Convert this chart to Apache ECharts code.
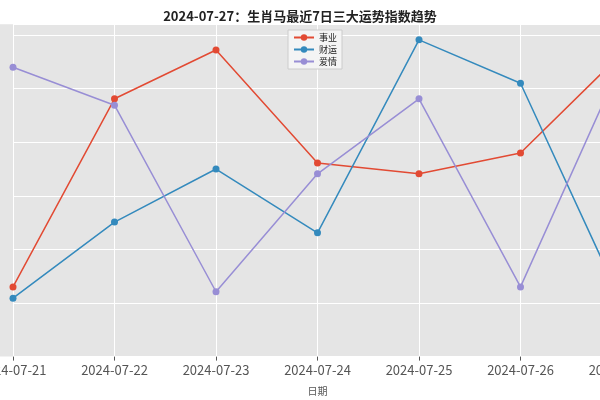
<!DOCTYPE html>
<html><head><meta charset="utf-8">
<script src="https://cdn.jsdelivr.net/npm/echarts@6/dist/echarts.min.js"></script>
<style>html,body{margin:0;padding:0;background:#fff}#c{width:600px;height:400px}</style>
</head><body><div id="c"></div>
<script>
const dates = ['2024-07-21','2024-07-22','2024-07-23','2024-07-24','2024-07-25','2024-07-26','2024-07-27'];
const career = [53.0, 88.1, 97.2, 76.1, 74.1, 78.0, 96.6];
const wealth = [50.9, 65.1, 75.0, 63.1, 99.1, 91.0, 50.0];
const love = [94.0, 86.9, 52.1, 74.1, 88.1, 53.0, 95.1];
const names = ['事业','财运','爱情'];
const colors = ['#E24A33','#348ABD','#988ED5'];
const font = '"Noto Sans CJK SC", "DejaVu Sans", sans-serif';
const chart = echarts.init(document.getElementById('c'));
const mk = (n,d,i)=>({name:n,type:'line',data:d,symbol:'circle',symbolSize:7,
  lineStyle:{color:colors[i],width:1.5},itemStyle:{color:colors[i]},z:3});
chart.setOption({
  animation:false,
  textStyle:{fontFamily:font},
  title:{text:'2024-07-27：生肖马最近7日三大运势指数趋势',left:'center',top:5,
    textStyle:{fontSize:13,fontWeight:'bold',color:'#222',fontFamily:font}},
  graphic:[{type:'rect',z:-10,silent:true,shape:{x:0,y:24.3,width:600,height:332.3},style:{fill:'#e5e5e5'}}],
  legend:{data:names,orient:'vertical',left:288,top:30,itemWidth:20,itemHeight:8,itemGap:3,
    backgroundColor:'#f4f4f4',borderColor:'#ccc',borderWidth:1,padding:[3,5],
    textStyle:{fontSize:9,color:'#222',fontFamily:font}},
  grid:{left:13,width:609,top:24.3,bottom:43.4,containLabel:false,outerBoundsMode:'none'},
  xAxis:{type:'category',data:dates,boundaryGap:false,name:'日期',nameLocation:'middle',nameGap:30,
    nameTextStyle:{fontSize:10,color:'#555'},
    axisLine:{show:false},axisTick:{show:true,length:4,lineStyle:{color:'#555'}},
    axisLabel:{fontSize:13,color:'#555',margin:7,showMinLabel:true,showMaxLabel:true,interval:0},
    splitLine:{show:true,lineStyle:{color:'#fff',width:1}}},
  yAxis:{type:'value',min:40,max:102,interval:10,axisLabel:{show:false},axisLine:{show:false},axisTick:{show:false},
    splitLine:{show:true,lineStyle:{color:'#fff',width:1}}},
  series:[mk(names[0],career,0),mk(names[1],wealth,1),mk(names[2],love,2)]
});
</script></body></html>
